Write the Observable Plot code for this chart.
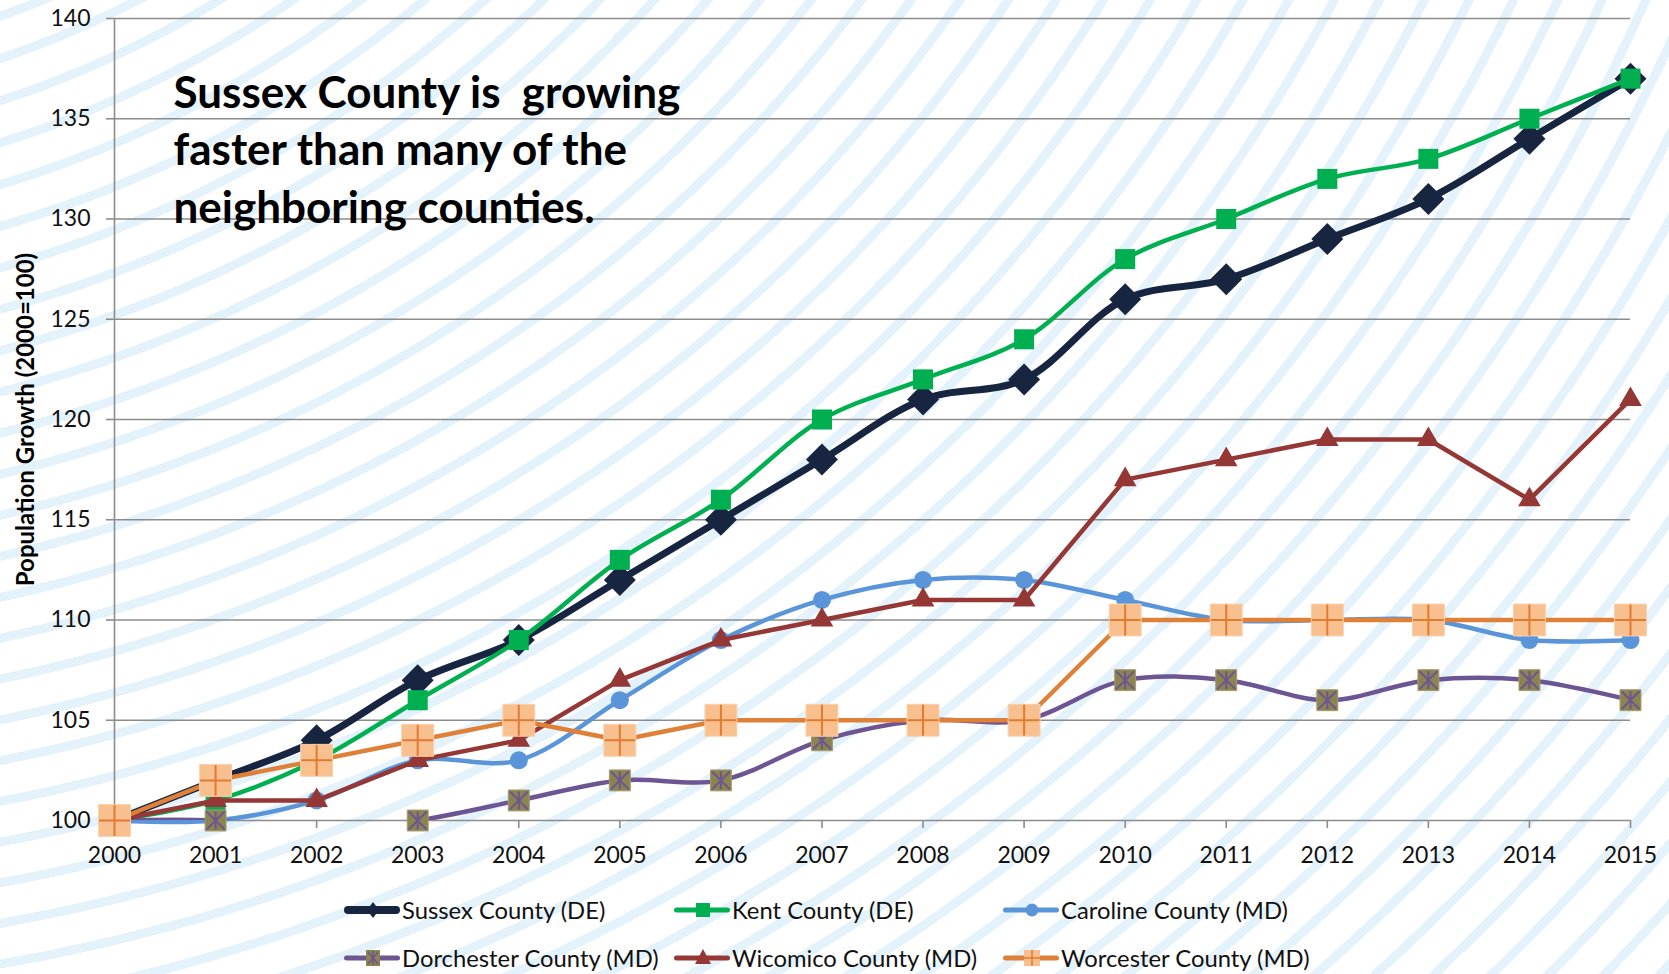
<!DOCTYPE html>
<html>
<head>
<meta charset="utf-8">
<script src="https://cdn.jsdelivr.net/npm/d3@7"></script>
<script src="https://cdn.jsdelivr.net/npm/@observablehq/plot@0.6"></script>
<style>
html, body { margin: 0; padding: 0; width: 1669px; height: 974px; overflow: hidden; background-color: #fff; }
body {
  position: relative;
  font-family: Lato, sans-serif;
  background-image: repeating-radial-gradient(circle at -320px -884px, rgba(255,255,255,0) 0px, rgba(255,255,255,0) 31px, #e4f3fb 31px, #e4f3fb 40px);
}
#chart { position: absolute; left: 0; top: 0; }
#chart g[aria-label="x-axis"] line, #chart g[aria-label="y-axis"] line,
#chart g[aria-label="x-axis tick"], #chart g[aria-label="y-axis tick"] { stroke: #8c8c8c; stroke-width: 1.6px; }
#chart g[aria-label="x-axis"] text, #chart g[aria-label="y-axis"] text,
#chart g[aria-label="x-axis tick label"], #chart g[aria-label="y-axis tick label"] { fill: #111; }
#legend { position: absolute; left: 0; top: 880px; width: 1669px; height: 94px; }
.item { position: absolute; height: 26px; display: flex; align-items: center; font-size: 23.8px; color: #111; white-space: nowrap; }
.item svg { display: block; margin-right: 1px; }
</style>
</head>
<body>
<div id="chart"></div>
<div id="legend"></div>
<script>
// ---- data ----
const years = [2000, 2001, 2002, 2003, 2004, 2005, 2006, 2007, 2008, 2009, 2010, 2011, 2012, 2013, 2014, 2015];
const seriesNames = ["Sussex County (DE)", "Kent County (DE)", "Caroline County (MD)", "Dorchester County (MD)", "Wicomico County (MD)", "Worcester County (MD)"];
const sussex     = [100, 102, 104, 107, 109, 112, 115, 118, 121, 122, 126, 127, 129, 131, 134, 137];
const kent       = [100, 101, 103, 106, 109, 113, 116, 120, 122, 124, 128, 130, 132, 133, 135, 137];
const caroline   = [100, 100, 101, 103, 103, 106, 109, 111, 112, 112, 111, 110, 110, 110, 109, 109];
const dorchester = [100, 100, 99.5, 100, 101, 102, 102, 104, 105, 105, 107, 107, 106, 107, 107, 106];
const wicomico   = [100, 101, 101, 103, 104, 107, 109, 110, 111, 111, 117, 118, 119, 119, 116, 121];
const worcester  = [100, 102, 103, 104, 105, 104, 105, 105, 105, 105, 110, 110, 110, 110, 110, 110];
const yTicks = [100, 105, 110, 115, 120, 125, 130, 135, 140];
const yLabel = "Population Growth (2000=100)";
const note = "Sussex County is\u00a0 growing\nfaster than many of the\nneighboring counties.";

const seriesValues = [sussex, kent, caroline, dorchester, wicomico, worcester];
const rows = [];
seriesNames.forEach((name, i) => years.forEach((year, j) => rows.push({series: name, year, value: seriesValues[i][j]})));

// ---- custom marker glyphs ----
const plusSym = {draw(ctx, size) { const h = Math.sqrt(size) / 2 - 0.5; ctx.moveTo(-h, 0); ctx.lineTo(h, 0); ctx.moveTo(0, -h); ctx.lineTo(0, h); }};
const starSym = {draw(ctx, size) { const h = Math.sqrt(size) / 2 - 1.5; ctx.moveTo(-h, -h); ctx.lineTo(h, h); ctx.moveTo(-h, h); ctx.lineTo(h, -h); ctx.moveTo(0, -h); ctx.lineTo(0, h); }};

// ---- styles ----
const styles = {
  "Sussex County (DE)":    {color: "#182541", width: 7,   curve: "catmull-rom", marks: [{symbol: "diamond2", r: 14.4, fill: "#182541"}]},
  "Kent County (DE)":      {color: "#00b050", width: 4.5, curve: "catmull-rom", marks: [{symbol: "square", r: 11.3, fill: "#00b050"}]},
  "Caroline County (MD)":  {color: "#5a95d9", width: 4.5, curve: "catmull-rom", marks: [{symbol: "circle", r: 9, fill: "#5a95d9"}]},
  "Dorchester County (MD)":{color: "#6c5592", width: 4.5, curve: "catmull-rom", clip: true, marks: [{symbol: "square", r: 11.8, fill: "#8c8450", stroke: "#a39b6a"}, {symbol: starSym, r: 11.8, fill: "none", stroke: "#6c5592", sw: 2}]},
  "Wicomico County (MD)":  {color: "#953735", width: 4.5, curve: "linear", marks: [{symbol: "triangle", r: 8.4, fill: "#953735"}]},
  "Worcester County (MD)": {color: "#df8038", width: 4.5, curve: "linear", marks: [{symbol: "square", r: 18, fill: "#f9c08f", stroke: "#fbd0a8"}, {symbol: plusSym, r: 18, fill: "none", stroke: "#e07b30", sw: 2}]}
};

const marks = [
  Plot.ruleY(yTicks, {stroke: "#8c8c8c", strokeWidth: 1.6}),
  Plot.ruleX([2000], {y1: 100, y2: 140, stroke: "#8c8c8c", strokeWidth: 1.6}),
  Plot.text([note], {frameAnchor: "top-left", textAnchor: "start", lineAnchor: "top", dx: 59, dy: 49, fontSize: 44, fontWeight: "bold", lineHeight: 1.3, fill: "#000"}),
  Plot.text([yLabel], {frameAnchor: "left", textAnchor: "middle", lineAnchor: "middle", rotate: -90, dx: -88, fontSize: 24, fontWeight: "bold", fill: "#000"})
];
for (const name of seriesNames) {
  const st = styles[name];
  const data = rows.filter(d => d.series === name);
  marks.push(Plot.line(data, {x: "year", y: "value", stroke: st.color, strokeWidth: st.width, curve: st.curve, clip: !!st.clip, strokeLinejoin: "round", strokeLinecap: "round"}));
  for (const m of st.marks) {
    marks.push(Plot.dot(data.filter(d => d.value >= 100), {x: "year", y: "value", symbol: m.symbol, r: m.r, fill: m.fill, stroke: m.stroke || "none", strokeWidth: m.sw || 1}));
  }
}

const chart = Plot.plot({
  width: 1669,
  height: 880,
  marginTop: 18,
  marginBottom: 60,
  marginLeft: 114,
  marginRight: 39,
  style: {background: "transparent", fontFamily: "Lato, sans-serif", fontSize: "23px", color: "#111", overflow: "visible"},
  x: {domain: [2000, 2015], ticks: years, tickFormat: d => String(d), tickSize: 8, tickPadding: 18, label: null},
  y: {domain: [100, 140], ticks: yTicks, tickSize: 8, tickPadding: 16, label: null},
  marks
});
document.getElementById("chart").appendChild(chart);

// ---- legend ----
function swatch(name) {
  const st = styles[name];
  const c = st.color;
  let mk = "";
  const cx = 30, cy = 13;
  switch (name) {
    case "Sussex County (DE)": mk = `<path d="M${cx},${cy-8}L${cx+6},${cy}L${cx},${cy+8}L${cx-6},${cy}Z" fill="${c}"/>`; break;
    case "Kent County (DE)": mk = `<rect x="${cx-7}" y="${cy-7}" width="14" height="14" fill="${c}"/>`; break;
    case "Caroline County (MD)": mk = `<circle cx="${cx}" cy="${cy}" r="6.5" fill="${c}"/>`; break;
    case "Dorchester County (MD)": mk = `<rect x="${cx-7}" y="${cy-8}" width="14" height="16" fill="#8c8450"/><path d="M${cx-5},${cy-6}L${cx+5},${cy+6}M${cx-5},${cy+6}L${cx+5},${cy-6}M${cx},${cy-7}L${cx},${cy+7}" stroke="${c}" stroke-width="1.6"/>`; break;
    case "Wicomico County (MD)": mk = `<path d="M${cx},${cy-9}L${cx+8},${cy+6}L${cx-8},${cy+6}Z" fill="${c}"/>`; break;
    case "Worcester County (MD)": mk = `<rect x="${cx-8}" y="${cy-8}" width="16" height="16" fill="#f9c08f"/><path d="M${cx-8},${cy}L${cx+8},${cy}M${cx},${cy-8}L${cx},${cy+8}" stroke="#e07b30" stroke-width="1.5"/>`; break;
  }
  const w = name === "Sussex County (DE)" ? 8 : 5;
  return `<svg width="58" height="26"><line x1="${w/2+1}" y1="${cy}" x2="${57-w/2}" y2="${cy}" stroke="${c}" stroke-width="${w}" stroke-linecap="round"/>${mk}</svg>`;
}
const colLeft = [343, 673, 1002];
const rowTop = [17, 65];
const legend = document.getElementById("legend");
seriesNames.forEach((name, i) => {
  const div = document.createElement("div");
  div.className = "item";
  div.style.left = colLeft[i % 3] + "px";
  div.style.top = rowTop[Math.floor(i / 3)] + "px";
  div.innerHTML = swatch(name) + `<span>${name}</span>`;
  legend.appendChild(div);
});
</script>
</body>
</html>
